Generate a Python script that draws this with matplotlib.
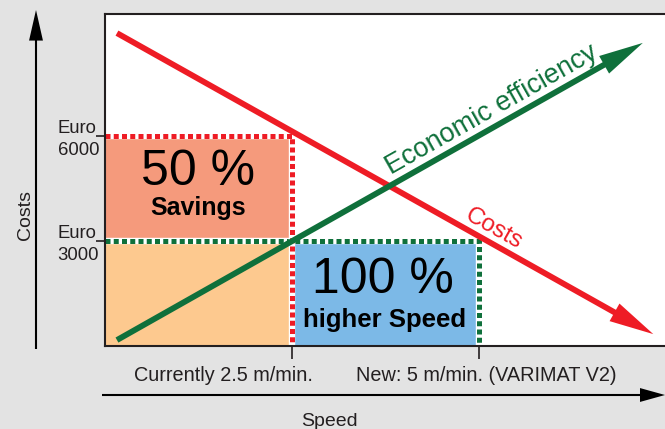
#! /usr/bin/env python
#
#  costs vs speed sketch: old machine (2.5 m/min) against the new VARIMAT V2 (5 m/min)
#

import numpy as np
import matplotlib.pyplot as plt

plt.rcParams['font.family'] = ['Liberation Sans', 'DejaVu Sans']

speed_ticks  = [2.5, 5.0]                      # m/min
speed_labels = ['Currently 2.5 m/min.', 'New: 5 m/min. (VARIMAT V2)']
cost_ticks   = [3000, 6000]                    # Euro
cost_labels  = ['Euro\n3000', 'Euro\n6000']

costs_x = [0.16, 7.33]                         # the falling "Costs" arrow
costs_y = [8940, 340]
eff_x   = [0.16, 7.19]                         # the rising "Economic efficiency" arrow
eff_y   = [170, 8660]

old_speed, new_speed = 2.5, 5.0
old_cost,  new_cost  = 6000, 3000

#  colours

bg     = '#e3e3e3'
red    = '#ee1c25'
green  = '#0f703b'
salmon = '#f59a7c'
peach  = '#fdc98f'
blue   = '#7cb9e7'
ink    = '#231f20'

fig = plt.figure(figsize=(6.65, 4.29), dpi=100, facecolor=bg)
ax = fig.add_axes([105/665, 83/429, 561/665, 332/429])
ax.set_facecolor('white')
ax.set_xlim(0, 7.5)
ax.set_ylim(0, 9486)

for s in ['left', 'top', 'bottom']:
    ax.spines[s].set_color(ink)
    ax.spines[s].set_linewidth(1.5)
ax.spines['right'].set_visible(False)

#  the three boxes
ax.fill_between([0, old_speed], new_cost, old_cost, color=salmon, lw=0, zorder=1)
ax.fill_between([0, old_speed], 0, new_cost, color=peach, lw=0, zorder=1)
ax.fill_between([old_speed, new_speed], 0, new_cost, color=blue, lw=0, zorder=1)

def dotted(xs, ys, c, z):
    # white band with coloured squares on it
    ax.plot(xs, ys, color='white', lw=4.6, zorder=z, solid_capstyle='butt')
    ax.plot(xs, ys, color=c, lw=3.6, ls=(0, (1.0, 0.65)), zorder=z + 0.1,
            dash_capstyle='butt')

dotted([0, new_speed, new_speed], [new_cost, new_cost, 0], green, 2)
dotted([0, old_speed, old_speed], [old_cost, old_cost, 0], red, 2.3)

#  big texts in the boxes
ax.text(1.24, 4600, '50 %', fontsize=36, ha='center', va='baseline', color='black', zorder=3)
ax.text(1.24, 3743, 'Savings', fontsize=18, fontweight='bold', ha='center', va='baseline',
        color='black', zorder=3)
ax.text(3.72, 1514, '100 %', fontsize=36, ha='center', va='baseline', color='black', zorder=3)
ax.text(3.74, 543, 'higher Speed', fontsize=18.5, fontweight='bold', ha='center', va='baseline',
        color='black', zorder=3)

#  the two arrows
def arrow(xs, ys, c, z):
    ax.annotate('', xy=(xs[1], ys[1]), xytext=(xs[0], ys[0]), zorder=z,
                arrowprops=dict(arrowstyle='simple,head_length=32,head_width=14.5,tail_width=4.2',
                                mutation_scale=1, color=c, lw=0, shrinkA=0, shrinkB=0))

arrow(costs_x, costs_y, red, 4)
arrow(eff_x, eff_y, green, 5)

def screen_angle(xs, ys):
    p = ax.transData.transform(np.column_stack([xs, ys]))
    return np.degrees(np.arctan2(p[1, 1] - p[0, 1], p[1, 0] - p[0, 0]))

def line_label(xs, ys, x0, d, text, size, c):
    # text parallel to the arrow, d points away from it
    a = screen_angle(xs, ys)
    y0 = np.interp(x0, xs, ys)
    ax.annotate(text, xy=(x0, y0),
                xytext=(-d*np.sin(np.radians(a)), d*np.cos(np.radians(a))),
                textcoords='offset points', rotation=a, rotation_mode='anchor',
                ha='center', va='baseline', fontsize=size, color=c, zorder=6)

line_label(eff_x, eff_y, 5.28, 6.3, 'Economic efficiency', 19.5, green)
line_label(costs_x, costs_y, 5.1, 5.6, 'Costs', 17.5, red)

#  ticks and their labels
ax.set_xticks(speed_ticks)
ax.set_yticks(cost_ticks)
ax.tick_params(axis='x', length=9.4, width=1.2, color=ink, labelbottom=False)
ax.tick_params(axis='y', length=6.5, width=1.2, color=ink, labelleft=False)

for xl, lab in zip([1.584, 5.098], speed_labels):
    ax.text(xl, -0.1045, lab, transform=ax.get_xaxis_transform(), ha='center', va='baseline',
            fontsize=14.3, color=ink)

for v, lab in zip(cost_ticks, cost_labels):
    ax.annotate(lab, xy=(0, v), xycoords=('axes fraction', 'data'), xytext=(-4.3, -2.5),
                textcoords='offset points', ha='right', va='center', multialignment='left',
                linespacing=1.45, fontsize=13.3, color=ink)

#  outer axis arrows and their names
ax.annotate('', xy=(36/665, 1 - 10/429), xytext=(36/665, 1 - 349/429), xycoords='figure fraction',
            arrowprops=dict(arrowstyle='simple,head_length=22,head_width=10,tail_width=1.5',
                            mutation_scale=1, color='black', lw=0, shrinkA=0, shrinkB=0))
ax.annotate('', xy=(665/665, 1 - 395/429), xytext=(102/665, 1 - 395/429), xycoords='figure fraction',
            arrowprops=dict(arrowstyle='simple,head_length=18,head_width=10,tail_width=1.5',
                            mutation_scale=1, color='black', lw=0, shrinkA=0, shrinkB=0))

fig.text(329/665, (429 - 425.6)/429, 'Speed', ha='center', va='baseline', fontsize=14, color=ink)
fig.text(30/665, 1 - 215/429, 'Costs', rotation=90, rotation_mode='anchor',
         ha='center', va='baseline', fontsize=14, color=ink)

plt.savefig('out.png', dpi=100, facecolor=bg)
